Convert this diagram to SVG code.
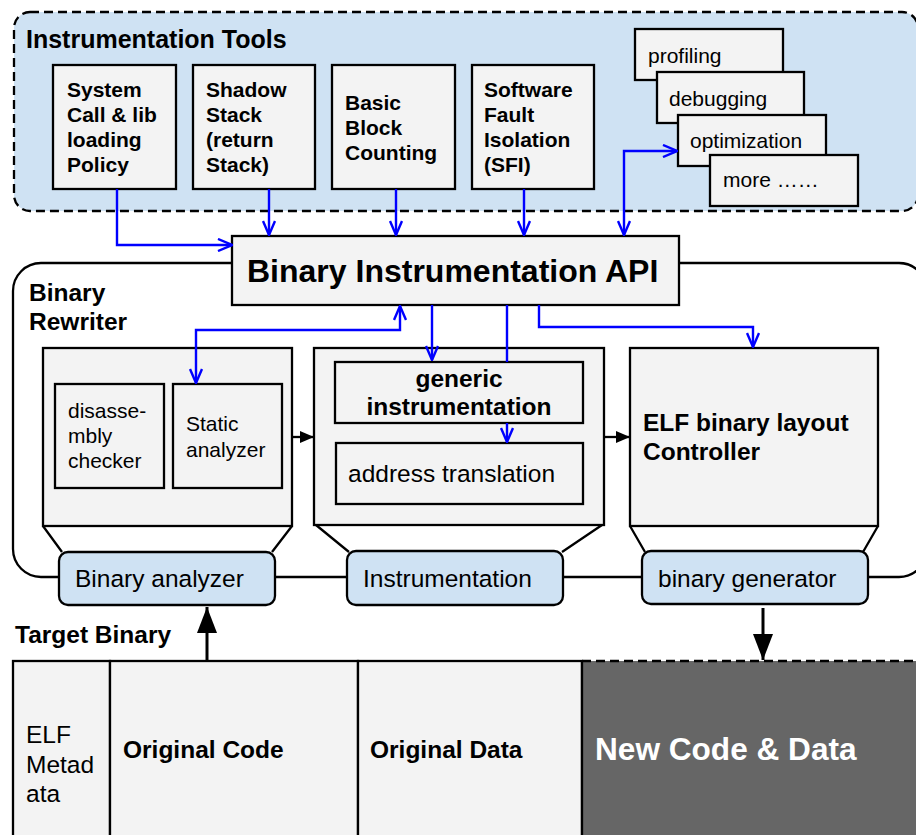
<svg xmlns="http://www.w3.org/2000/svg" width="916" height="835" viewBox="0 0 916 835">
<style>
text{font-family:"Liberation Sans",Arial,sans-serif;fill:#000}
.b{font-weight:bold}
.f21{font-size:21px}
.f24{font-size:24.5px}
.box{fill:#f3f3f3;stroke:#000;stroke-width:2.3}
.pill{fill:#cfe2f3;stroke:#000;stroke-width:2.3}
.ln{fill:none;stroke:#000;stroke-width:2.3}
.blue{fill:none;stroke:#0000ff;stroke-width:2.4;marker-end:url(#ba)}
.blue2{fill:none;stroke:#0000ff;stroke-width:2.4;marker-end:url(#ba);marker-start:url(#bs)}
</style>
<defs>
<marker id="ba" viewBox="0 0 16 14" refX="15" refY="7" markerWidth="16" markerHeight="14" markerUnits="userSpaceOnUse" orient="auto">
<path d="M1,1 L15,7 L1,13" fill="none" stroke="#0000ff" stroke-width="2.4"/>
</marker>
<marker id="bs" viewBox="0 0 16 14" refX="1" refY="7" markerWidth="16" markerHeight="14" markerUnits="userSpaceOnUse" orient="auto">
<path d="M15,1 L1,7 L15,13" fill="none" stroke="#0000ff" stroke-width="2.4"/>
</marker>
<marker id="ka" viewBox="0 0 14 12" refX="14" refY="6" markerWidth="14" markerHeight="12" markerUnits="userSpaceOnUse" orient="auto">
<path d="M0,0 L14,6 L0,12 z" fill="#000"/>
</marker>
<marker id="kb" viewBox="0 0 26 20" refX="26" refY="10" markerWidth="26" markerHeight="20" markerUnits="userSpaceOnUse" orient="auto">
<path d="M0,0 L26,10 L0,20 z" fill="#000"/>
</marker>
</defs>

<g id="instrumentation-tools">
<rect x="14" y="12" width="904" height="199" rx="16" fill="#cfe2f3" stroke="#000" stroke-width="2.3" stroke-dasharray="9,5"/>
<text x="26" y="48" class="b" style="font-size:25px">Instrumentation Tools</text>
</g>

<g id="binary-rewriter">
<rect x="13" y="263" width="914" height="314" rx="28" fill="none" stroke="#000" stroke-width="2.3"/>
<text class="b f24"><tspan x="29" y="301">Binary</tspan><tspan x="29" y="330">Rewriter</tspan></text>
</g>

<g id="tool-syscall">
<rect class="box" x="53" y="65" width="123" height="124"/>
<text class="b f21"><tspan x="67" y="97">System</tspan><tspan x="67" y="122">Call &amp; lib</tspan><tspan x="67" y="147">loading</tspan><tspan x="67" y="172">Policy</tspan></text>
</g>
<g id="tool-shadow">
<rect class="box" x="193" y="65" width="122" height="124"/>
<text class="b f21"><tspan x="206" y="97">Shadow</tspan><tspan x="206" y="122">Stack</tspan><tspan x="206" y="147">(return</tspan><tspan x="206" y="172">Stack)</tspan></text>
</g>
<g id="tool-bbcount">
<rect class="box" x="332" y="65" width="123" height="124"/>
<text class="b f21"><tspan x="345" y="110">Basic</tspan><tspan x="345" y="135">Block</tspan><tspan x="345" y="160">Counting</tspan></text>
</g>
<g id="tool-sfi">
<rect class="box" x="472" y="65" width="122" height="124"/>
<text class="b f21"><tspan x="484" y="97">Software</tspan><tspan x="484" y="122">Fault</tspan><tspan x="484" y="147">Isolation</tspan><tspan x="484" y="172">(SFI)</tspan></text>
</g>
<g id="tool-profiling">
<rect class="box" x="635" y="29" width="148" height="51"/>
<text class="f21" x="648" y="63">profiling</text>
</g>
<g id="tool-debugging">
<rect class="box" x="657" y="72" width="147" height="51"/>
<text class="f21" x="669" y="106">debugging</text>
</g>
<g id="tool-optimization">
<rect class="box" x="678" y="115" width="148" height="51"/>
<text class="f21" x="690" y="148">optimization</text>
</g>
<g id="tool-more">
<rect class="box" x="710" y="155" width="148" height="51"/>
<text class="f21" x="723" y="187">more ……</text>
</g>

<g id="api">
<rect class="box" x="232" y="236" width="447" height="69"/>
<text class="b" style="font-size:32px" x="247" y="282">Binary Instrumentation API</text>
</g>

<g id="binary-analyzer">
<rect class="box" x="43" y="348" width="249" height="178"/>
<rect class="box" x="55" y="384" width="109" height="104"/>
<text class="f21"><tspan x="68" y="418">disasse-</tspan><tspan x="68" y="443">mbly</tspan><tspan x="68" y="468">checker</tspan></text>
<rect class="box" x="173" y="384" width="109" height="104"/>
<text class="f21"><tspan x="186" y="431">Static</tspan><tspan x="186" y="457">analyzer</tspan></text>
<path class="ln" d="M43,526 L62,552 M292,526 L272,552"/>
<rect class="pill" x="59" y="552" width="216" height="53" rx="9"/>
<text class="f24" x="75" y="587">Binary analyzer</text>
</g>

<g id="instrumentation">
<rect class="box" x="314" y="348" width="290" height="177"/>
<rect class="box" x="335" y="362" width="248" height="61"/>
<text class="b f24" text-anchor="middle"><tspan x="459" y="387">generic</tspan><tspan x="459" y="415">instrumentation</tspan></text>
<rect class="box" x="336" y="443" width="247" height="61"/>
<text class="f24" x="348" y="482">address translation</text>
<path class="ln" d="M316,525 L349,552 M602,525 L562,552"/>
<rect class="pill" x="347" y="551" width="216" height="54" rx="9"/>
<text class="f24" x="363" y="587">Instrumentation</text>
</g>

<g id="binary-generator">
<rect class="box" x="630" y="348" width="248" height="178"/>
<text class="b f24"><tspan x="643" y="431">ELF binary layout</tspan><tspan x="643" y="460">Controller</tspan></text>
<path class="ln" d="M630,526 L645,552 M878,526 L863,552"/>
<rect class="pill" x="642" y="551" width="226" height="53" rx="9"/>
<text class="f24" x="658" y="587">binary generator</text>
</g>

<g id="target-binary">
<text class="b f24" x="15" y="643">Target Binary</text>
<rect class="box" x="13" y="661" width="97" height="190"/>
<text class="f24"><tspan x="26" y="743">ELF</tspan><tspan x="26" y="773">Metad</tspan><tspan x="26" y="802">ata</tspan></text>
<rect class="box" x="110" y="661" width="248" height="190"/>
<text class="b f24" x="123" y="758">Original Code</text>
<rect class="box" x="358" y="661" width="224" height="190"/>
<text class="b f24" x="370" y="758">Original Data</text>
</g>

<g id="new-code-data">
<rect x="582" y="661" width="340" height="190" fill="#666666"/>
<path d="M582,661 H916" stroke="#000" stroke-width="2.3" stroke-dasharray="9,5"/>
<path d="M582,661 V835" stroke="#000" stroke-width="2.3"/>
<text class="b" style="font-size:31.6px;fill:#fff" x="595" y="760">New Code &amp; Data</text>
</g>

<g id="connectors">
<path class="blue" d="M117,189 V245 H232"/>
<path class="blue" d="M269,189 V235"/>
<path class="blue" d="M396,189 V235"/>
<path class="blue" d="M524,189 V235"/>
<path class="blue2" d="M624,235 V151 H677"/>
<path class="blue2" d="M196,383 V330 H400 V306"/>
<path class="blue" d="M432,305 V360"/>
<path class="blue" d="M507,305 V362 M507,423 V442"/>
<path class="blue" d="M539,305 V327 H753 V347"/>
<path fill="none" stroke="#000" stroke-width="2.3" marker-end="url(#ka)" d="M292,437 H314"/>
<path fill="none" stroke="#000" stroke-width="2.3" marker-end="url(#ka)" d="M604,437 H630"/>
<path fill="none" stroke="#000" stroke-width="3" marker-end="url(#kb)" d="M207,660 V607"/>
<path fill="none" stroke="#000" stroke-width="3" marker-end="url(#kb)" d="M763,608 V660"/>
</g>
</svg>
